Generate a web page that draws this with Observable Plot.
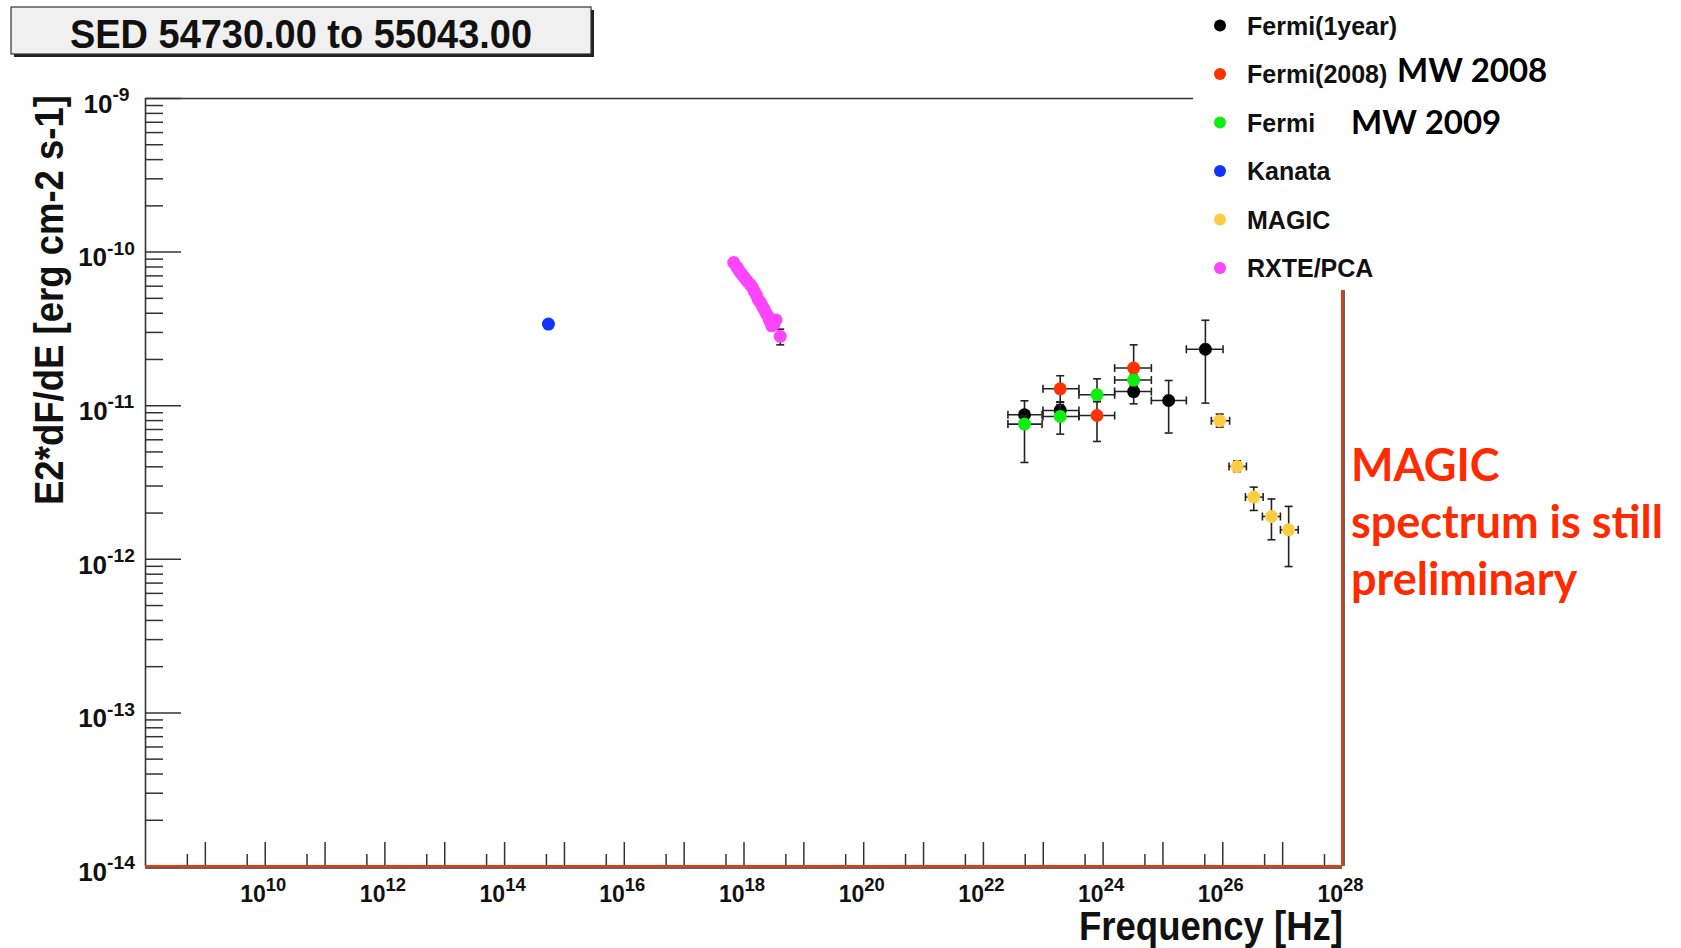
<!DOCTYPE html>
<html>
<head>
<meta charset="utf-8">
<script src="https://cdn.jsdelivr.net/npm/d3@7"></script>
<script src="https://cdn.jsdelivr.net/npm/@observablehq/plot@0.6"></script>
<style>
  html, body { margin: 0; padding: 0; background: #fff; }
  #chart svg { display: block; }
</style>
</head>
<body>
<div id="chart"></div>
<script>
// ---------------- data ----------------
const titleText = "SED 54730.00 to 55043.00";
const xTitle = "Frequency [Hz]";
const yTitle = "E2*dF/dE [erg cm-2 s-1]";

const seriesNames  = ["Fermi(1year)", "Fermi(2008)", "Fermi", "Kanata", "MAGIC", "RXTE/PCA"];
const seriesColors = ["#000000", "#ff3300", "#11ee11", "#1133ff", "#ffcc44", "#ff44ff"];

// Fermi (1 year) - black
const fermi1yFreq   = [4.86e22, 1.92e23, 3.24e24, 1.245e25, 5.12e25];
const fermi1yFreqLo = [2.57e22, 9.89e22, 1.56e24, 6.40e24, 2.46e25];
const fermi1yFreqHi = [9.55e22, 3.95e23, 6.40e24, 2.46e25, 1.01e26];
const fermi1yFlux   = [8.73e-12, 9.31e-12, 1.236e-11, 1.081e-11, 2.33e-11];
const fermi1yFluxLo = [7.18e-12, 8.85e-12, 1.028e-11, 6.64e-12, 1.04e-11];
const fermi1yFluxHi = [1.076e-11, 1.05e-11, 1.349e-11, 1.459e-11, 3.60e-11];

// Fermi (2008) - red
const fermi08Freq   = [1.92e23, 7.91e23, 3.24e24];
const fermi08FreqLo = [9.89e22, 3.95e23, 1.56e24];
const fermi08FreqHi = [3.95e23, 1.56e24, 6.40e24];
const fermi08Flux   = [1.288e-11, 8.63e-12, 1.758e-11];
const fermi08FluxLo = [1.06e-11, 5.85e-12, 1.476e-11];
const fermi08FluxHi = [1.567e-11, 1.064e-11, 2.49e-11];

// Fermi (MW 2009) - green
const fermi09Freq   = [4.86e22, 1.92e23, 7.91e23, 3.24e24];
const fermi09FreqLo = [2.57e22, 9.89e22, 3.95e23, 1.56e24];
const fermi09FreqHi = [9.55e22, 3.95e23, 1.56e24, 6.40e24];
const fermi09Flux   = [7.59e-12, 8.51e-12, 1.178e-11, 1.469e-11];
const fermi09FluxLo = [4.27e-12, 6.53e-12, 1.064e-11, 1.334e-11];
const fermi09FluxHi = [8.59e-12, 1.014e-11, 1.496e-11, 1.592e-11];

// Kanata - blue
const kanataFreq = [5.4e14];
const kanataFlux = [3.40e-11];

// MAGIC - yellow
const magicFreq   = [8.87e25, 1.73e26, 3.29e26, 6.50e26, 1.26e27];
const magicFreqLo = [6.44e25, 1.27e26, 2.39e26, 4.59e26, 9.18e26];
const magicFreqHi = [1.30e26, 2.48e26, 4.72e26, 9.18e26, 1.82e27];
const magicFlux   = [7.98e-12, 4.02e-12, 2.54e-12, 1.90e-12, 1.556e-12];
const magicFluxLo = [7.26e-12, 3.72e-12, 2.08e-12, 1.34e-12, 8.97e-13];
const magicFluxHi = [8.81e-12, 4.38e-12, 2.95e-12, 2.47e-12, 2.21e-12];

// RXTE/PCA - magenta
const rxteFreq = [6.73e17, 7.64e17, 8.34e17, 9.14e17, 1.01e18, 1.12e18, 1.25e18, 1.36e18,
                  1.49e18, 1.61e18, 1.73e18, 1.88e18, 2.02e18, 2.19e18, 2.36e18, 2.59e18,
                  2.63e18, 2.83e18, 2.90e18, 3.14e18, 3.16e18, 3.43e18, 4.03e18];
const rxteFlux = [8.55e-11, 7.98e-11, 7.55e-11, 7.19e-11, 6.84e-11, 6.50e-11, 6.19e-11, 5.95e-11,
                  5.55e-11, 5.25e-11, 4.90e-11, 4.70e-11, 4.45e-11, 4.21e-11, 3.98e-11, 3.78e-11,
                  3.63e-11, 3.59e-11, 3.31e-11, 3.52e-11, 3.39e-11, 3.62e-11, 2.83e-11];
const rxteFluxLo = [null, null, null, null, null, null, null, null, null, null, null, null,
                    null, null, null, null, null, null, null, null, null, null, 2.49e-11];
const rxteFluxHi = [null, null, null, null, null, null, null, null, null, null, null, null,
                    null, null, null, null, null, null, null, null, null, null, 3.15e-11];

// axis ticks
const xMajorTicks = [1e9, 1e10, 1e11, 1e12, 1e13, 1e14, 1e15, 1e16, 1e17, 1e18, 1e19, 1e20,
                     1e21, 1e22, 1e23, 1e24, 1e25, 1e26, 1e27];
const xMinorTicks = [5e8, 5e9, 5e10, 5e11, 5e12, 5e13, 5e14, 5e15, 5e16, 5e17, 5e18, 5e19,
                     5e20, 5e21, 5e22, 5e23, 5e24, 5e25, 5e26, 5e27];
const xLabelTicks = [1e10, 1e12, 1e14, 1e16, 1e18, 1e20, 1e22, 1e24, 1e26, 1e28];
const yLabelTicks = [1e-14, 1e-13, 1e-12, 1e-11, 1e-10, 1e-9];
const yMajorTicks = [1e-14, 1e-13, 1e-12, 1e-11, 1e-10, 1e-9];
const yMinorMantissas = [2, 3, 4, 5, 6, 7, 8, 9];

// ---------------- build ----------------
const series = [
  {name: seriesNames[0], color: seriesColors[0], freq: fermi1yFreq, freqLo: fermi1yFreqLo, freqHi: fermi1yFreqHi, flux: fermi1yFlux, fluxLo: fermi1yFluxLo, fluxHi: fermi1yFluxHi},
  {name: seriesNames[1], color: seriesColors[1], freq: fermi08Freq, freqLo: fermi08FreqLo, freqHi: fermi08FreqHi, flux: fermi08Flux, fluxLo: fermi08FluxLo, fluxHi: fermi08FluxHi},
  {name: seriesNames[2], color: seriesColors[2], freq: fermi09Freq, freqLo: fermi09FreqLo, freqHi: fermi09FreqHi, flux: fermi09Flux, fluxLo: fermi09FluxLo, fluxHi: fermi09FluxHi},
  {name: seriesNames[3], color: seriesColors[3], freq: kanataFreq, flux: kanataFlux},
  {name: seriesNames[4], color: seriesColors[4], freq: magicFreq, freqLo: magicFreqLo, freqHi: magicFreqHi, flux: magicFlux, fluxLo: magicFluxLo, fluxHi: magicFluxHi},
  {name: seriesNames[5], color: seriesColors[5], freq: rxteFreq, flux: rxteFlux, fluxLo: rxteFluxLo, fluxHi: rxteFluxHi}
];

function rows(s) {
  return s.freq.map((f, i) => ({
    f, v: s.flux[i],
    fLo: s.freqLo ? s.freqLo[i] : null, fHi: s.freqHi ? s.freqHi[i] : null,
    vLo: s.fluxLo ? s.fluxLo[i] : null, vHi: s.fluxHi ? s.fluxHi[i] : null
  }));
}

const yMinorTicks = [];
for (const m of yMajorTicks.slice(0, -1)) for (const k of yMinorMantissas) yMinorTicks.push(k * m);

const hCap = {draw(ctx, size) { const r = Math.sqrt(size / Math.PI); ctx.moveTo(-r, 0); ctx.lineTo(r, 0); }};
const vCap = {draw(ctx, size) { const r = Math.sqrt(size / Math.PI); ctx.moveTo(0, -r); ctx.lineTo(0, r); }};

const W = 1681, H = 948;
const mL = 145, mR = 339, mT = 98, mB = 82;
const plotW = W - mL - mR, plotH = H - mT - mB;
const errColor = "#222";
const errW = 1.6;

function seriesMarks(s) {
  const d = rows(s);
  const vx = d.filter(p => p.vLo != null && p.vHi != null);
  const hx = d.filter(p => p.fLo != null && p.fHi != null);
  return [
    Plot.ruleX(vx, {x: "f", y1: "vLo", y2: "vHi", stroke: errColor, strokeWidth: errW}),
    Plot.dot(vx, {x: "f", y: "vLo", symbol: hCap, r: 4, stroke: errColor, strokeWidth: errW, fill: "none"}),
    Plot.dot(vx, {x: "f", y: "vHi", symbol: hCap, r: 4, stroke: errColor, strokeWidth: errW, fill: "none"}),
    Plot.ruleY(hx, {y: "v", x1: "fLo", x2: "fHi", stroke: errColor, strokeWidth: errW}),
    Plot.dot(hx, {x: "fLo", y: "v", symbol: vCap, r: 4, stroke: errColor, strokeWidth: errW, fill: "none"}),
    Plot.dot(hx, {x: "fHi", y: "v", symbol: vCap, r: 4, stroke: errColor, strokeWidth: errW, fill: "none"}),
    Plot.dot(d, {x: "f", y: "v", r: 6.5, fill: s.color, stroke: "none"})
  ];
}

const supFmt = d => "10^" + Math.round(Math.log10(d));

const chart = Plot.plot({
  width: W, height: H,
  marginLeft: mL, marginRight: mR, marginTop: mT, marginBottom: mB,
  style: {fontFamily: "'Liberation Sans', Arial, Helvetica, sans-serif", background: "#fff"},
  x: {type: "log", domain: [1e8, 1e28], axis: null},
  y: {type: "log", domain: [1e-14, 1e-9], axis: null},
  marks: [
    // ticks
    Plot.tickY(yMinorTicks, {y: d => d, stroke: "#333", strokeWidth: 1.5, insetRight: plotW - 18}),
    Plot.tickY(yMajorTicks, {y: d => d, stroke: "#333", strokeWidth: 1.5, insetRight: plotW - 36}),
    Plot.tickX(xMinorTicks, {x: d => d, stroke: "#333", strokeWidth: 1.5, insetTop: plotH - 12}),
    Plot.tickX(xMajorTicks, {x: d => d, stroke: "#333", strokeWidth: 1.5, insetTop: plotH - 24}),
    // frame
    Plot.ruleX([1e8], {stroke: "#333", strokeWidth: 1.6}),
    Plot.ruleY([1e-9], {stroke: "#333", strokeWidth: 1.6}),
    Plot.ruleX([1e28], {stroke: "#333", strokeWidth: 1.5, dx: 1.5}),
    Plot.ruleX([1e28], {stroke: "#ff3300", strokeWidth: 2, dx: -0.5}),
    Plot.ruleY([1e-14], {stroke: "#333", strokeWidth: 1.5, dy: 1.5}),
    Plot.ruleY([1e-14], {stroke: "#ff3300", strokeWidth: 2, dy: -0.5}),
    // tick labels
    Plot.axisX({anchor: "bottom", ticks: xLabelTicks, tickSize: 0, tickPadding: 19, tickFormat: supFmt,
                fontSize: 23, fontWeight: "bold", label: null, dx: -2}),
    Plot.axisY({anchor: "left", ticks: yLabelTicks, tickSize: 0, tickPadding: 39, textAnchor: "middle",
                tickFormat: supFmt, fontSize: 26, fontWeight: "bold", dy: 6, label: null}),
    // data
    ...series.flatMap(seriesMarks)
  ]
});

document.getElementById("chart").appendChild(chart);

// superscript exponents in tick labels
const NS = "http://www.w3.org/2000/svg";
function supify(selector, size, supScale) {
  chart.querySelectorAll(selector).forEach(t => {
    const m = t.textContent.match(/^10\^(-?\d+)$/);
    if (!m) return;
    t.textContent = "";
    const a = document.createElementNS(NS, "tspan"); a.textContent = "10"; t.appendChild(a);
    const b = document.createElementNS(NS, "tspan"); b.textContent = m[1];
    b.setAttribute("font-size", supScale); b.setAttribute("dy", "-0.6em"); t.appendChild(b);
    t.setAttribute("font-weight", "bold");
    t.setAttribute("font-size", size);
    t.setAttribute("fill", "#111");
  });
}
supify('g[aria-label="x-axis tick label"] text', 23, "0.8em");
supify('g[aria-label="y-axis tick label"] text', 26, "0.74em");

const svg = d3.select(chart);
const font = "'Liberation Sans', Arial, Helvetica, sans-serif";

// axis titles
svg.append("text").attr("transform", "translate(63,95) rotate(-90)")
  .attr("text-anchor", "end").attr("font-family", font).attr("font-weight", "bold").attr("font-size", 41)
  .attr("textLength", 410).attr("lengthAdjust", "spacingAndGlyphs").attr("fill", "#111").text(yTitle);
svg.append("text").attr("x", 1343).attr("y", 940)
  .attr("text-anchor", "end").attr("font-family", font).attr("font-weight", "bold").attr("font-size", 40)
  .attr("textLength", 264).attr("lengthAdjust", "spacingAndGlyphs").attr("fill", "#111").text(xTitle);

// title box
svg.append("rect").attr("x", 14).attr("y", 10).attr("width", 580).attr("height", 47).attr("fill", "#222");
svg.append("rect").attr("x", 11).attr("y", 7).attr("width", 580).attr("height", 47)
  .attr("fill", "#f0f0f0").attr("stroke", "#333").attr("stroke-width", 1.2);
svg.append("text").attr("x", 301).attr("y", 48).attr("text-anchor", "middle")
  .attr("font-family", font).attr("font-weight", "bold").attr("font-size", 40)
  .attr("textLength", 462).attr("lengthAdjust", "spacingAndGlyphs").attr("fill", "#111").text(titleText);

// legend box (covers the top-right corner of the frame)
svg.append("rect").attr("x", 1193).attr("y", 0).attr("width", W - 1193).attr("height", 290).attr("fill", "#fff");
const lg = svg.append("g");
series.forEach((s, i) => {
  const cy = 25.5 + 48.5 * i;
  lg.append("circle").attr("cx", 1220).attr("cy", cy).attr("r", 6).attr("fill", s.color);
  lg.append("text").attr("x", 1247).attr("y", cy + 9).attr("text-anchor", "start")
    .attr("font-family", font).attr("font-weight", "bold")
    .attr("font-size", 25).attr("fill", "#111").text(s.name);
});

// overlaid notes
const noteFont = "Lato, 'Open Sans', sans-serif";
svg.append("text").attr("x", 1397).attr("y", 82).attr("text-anchor", "start")
  .attr("font-family", noteFont).attr("font-weight", "bold")
  .attr("font-size", 33).attr("fill", "#000").text("MW 2008");
svg.append("text").attr("x", 1351).attr("y", 134).attr("text-anchor", "start")
  .attr("font-family", noteFont).attr("font-weight", "bold")
  .attr("font-size", 33).attr("fill", "#000").text("MW 2009");
const noteLines = ["MAGIC", "spectrum is still", "preliminary"];
noteLines.forEach((line, i) => {
  svg.append("text").attr("x", 1351).attr("y", 481 + 57 * i).attr("text-anchor", "start")
    .attr("font-family", noteFont).attr("font-weight", "bold")
    .attr("font-size", 45).attr("fill", "#ff2b00").text(line);
});
</script>
</body>
</html>
